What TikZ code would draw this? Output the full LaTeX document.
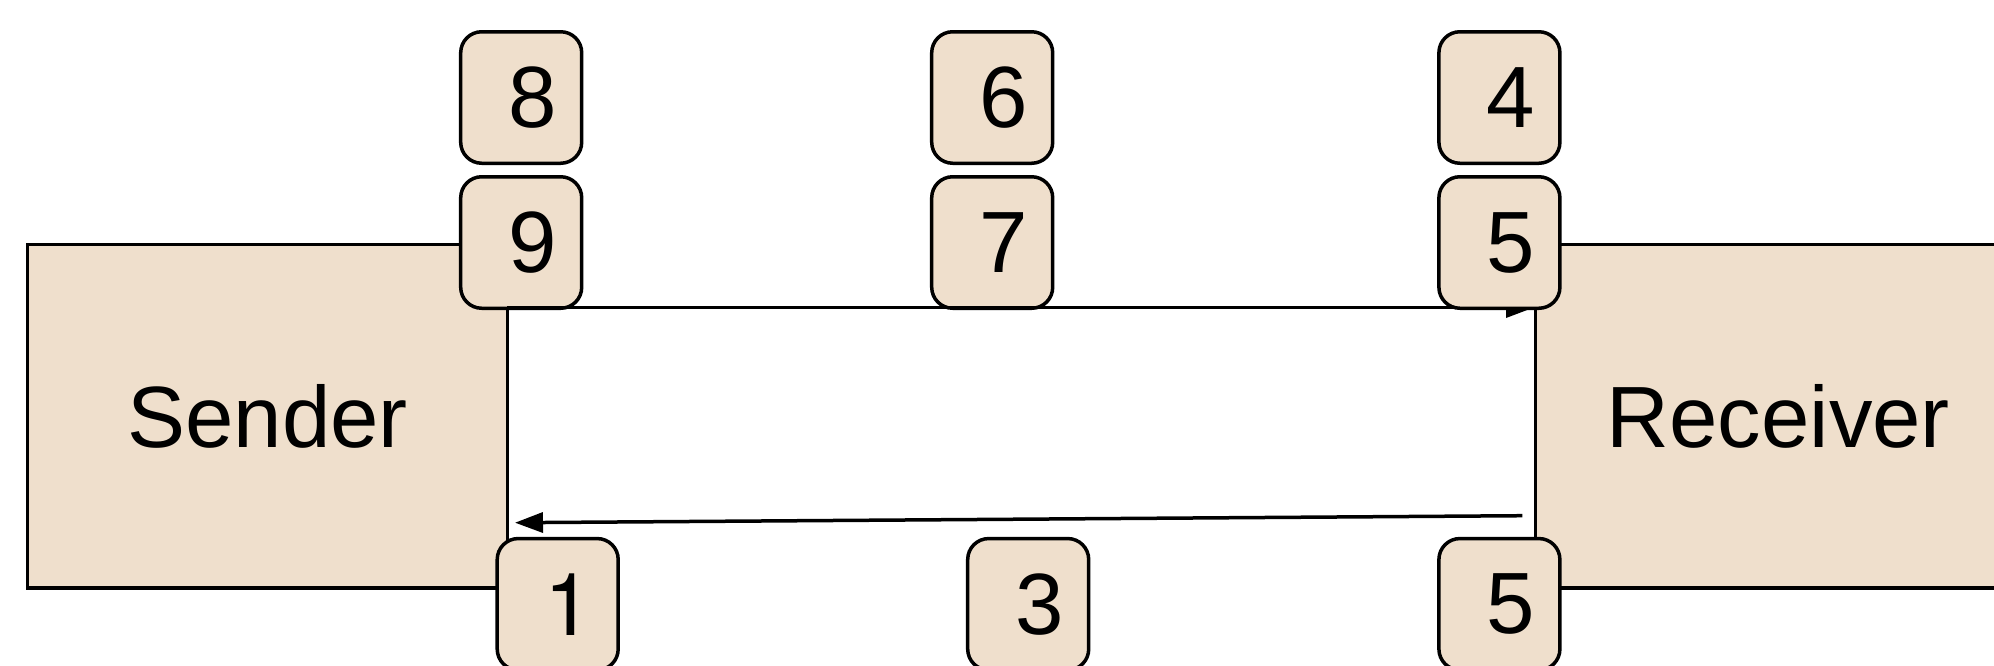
\documentclass[tikz,border=0pt]{standalone}
\usepackage{fontspec}
\setmainfont{Liberation Sans}
\newfontfamily\herosfont{TeX Gyre Heros}
\usetikzlibrary{arrows.meta}
\definecolor{boxfill}{RGB}{239,223,204}
\begin{document}
\begin{tikzpicture}[x=1pt,y=-1pt,
  every node/.style={font=\fontsize{87}{90}\selectfont},
  party/.style={draw=black,fill=boxfill,line width=3.5pt},
  tag/.style={draw=black,fill=boxfill,line width=3.5pt,rounded corners=21pt,
    minimum width=121pt,minimum height=131.5pt,inner sep=0pt},
  arr/.style={line width=3.5pt,-{Triangle[length=28pt,width=20pt]}}]
\useasboundingbox (0,0) rectangle (1994,665);
\clip (0,0) rectangle (1994,665);
% parties
\draw[party] (27.7,244.3) rectangle (507.3,588.2);
\node (sender) at (267.5,416.25) {Sender};
\draw[party] (1535.7,244.3) rectangle (2021,588.2);
\node (receiver) at (1778.3,416.25) {Receiver};
% top tags
\node[tag] (b8) at (521.2,97.5) {\kern22pt 8};
\node[tag] (b9) at (521.2,242.5) {\kern22pt 9};
\node[tag] (b6) at (992.2,97.5) {\kern22pt 6};
\node[tag] (b7) at (992.2,242.5) {\kern22pt 7};
\node[tag] (b4) at (1499.4,97.5) {\kern22pt 4};
% connectors
\coordinate (topstart) at (507.3,307.5);
\coordinate (topend) at (1534,307.5);
\draw[arr] (topstart) -- (topend);
\coordinate (botstart) at (1522.3,515.7);
\coordinate (botend) at (515,522.7);
\draw[arr] (botstart) -- (botend);
% tags over lines
\node[tag] (b5t) at (1499.4,242.5) {\kern22pt 5};
\node[tag] (b1) at (557.7,604.3) {\kern22pt {\herosfont 1}};
\node[tag] (b3) at (1028.2,604.3) {\kern22pt 3};
\node[tag] (b5b) at (1499.4,604.3) {\kern22pt 5};
\end{tikzpicture}
\end{document}
